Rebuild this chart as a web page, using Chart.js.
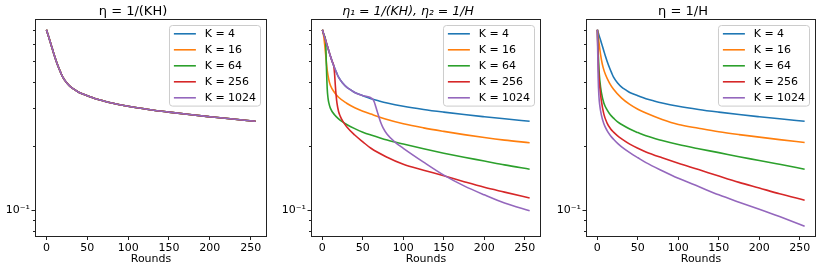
<!DOCTYPE html>
<html>
<head>
<meta charset="utf-8">
<script src="https://cdn.jsdelivr.net/npm/chart.js@4"></script>
<style>
  body { margin: 0; background: #fff; }
  #wrap { position: relative; width: 822px; height: 271px; overflow: hidden; }
  canvas { position: absolute; top: 0; }
</style>
</head>
<body>
<div id="wrap">
  <canvas id="panel-same" width="270" height="271" style="left:0px"></canvas>
  <canvas id="panel-mixed" width="268" height="271" style="left:276px"></canvas>
  <canvas id="panel-large" width="268" height="271" style="left:551px"></canvas>
</div>
<script>
const FONT = "DejaVu Sans";

const K_LABELS = ["K = 4", "K = 16", "K = 64", "K = 256", "K = 1024"];
const COLORS = ["#1f77b4", "#ff7f0e", "#2ca02c", "#d62728", "#9467bd"];
const X_TICKS = [0, 50, 100, 150, 200, 250];
const Y_TICKS = [0.08, 0.09, 0.1, 0.2, 0.3, 0.4, 0.5, 0.6, 0.7];

// eta = 1/(KH): every K gives the same curve (K = 4 looks the same in the other panels)
const baseRounds = [0, 2, 4, 6, 8, 10, 12, 15, 17.5, 20, 25, 30, 35, 40, 50, 60, 70, 80, 100, 125, 150, 175, 200, 225, 256];
const baseLoss = [0.70, 0.661, 0.625, 0.590, 0.557, 0.526, 0.499, 0.465, 0.441, 0.420, 0.394, 0.377, 0.366, 0.356, 0.344, 0.333, 0.325, 0.318, 0.307, 0.2965, 0.288, 0.2805, 0.274, 0.268, 0.261];

// eta1 = 1/(KH), eta2 = 1/H
const mixK16Rounds = [0, 1, 2, 3, 4, 5, 6, 8, 10, 15, 20, 30, 40, 50, 60, 80, 100, 125, 150, 175, 200, 225, 256];
const mixK16Loss = [0.70, 0.675, 0.64, 0.59, 0.54, 0.49, 0.452, 0.408, 0.384, 0.356, 0.338, 0.317, 0.302, 0.291, 0.282, 0.266, 0.254, 0.243, 0.234, 0.226, 0.219, 0.213, 0.207];
const mixK64Rounds = [0, 2, 4, 5, 6, 7, 8, 10, 15, 20, 25, 30, 40, 50, 60, 80, 100, 125, 150, 175, 200, 225, 256];
const mixK64Loss = [0.70, 0.661, 0.625, 0.47, 0.37, 0.335, 0.318, 0.30, 0.28, 0.268, 0.259, 0.252, 0.241, 0.232, 0.225, 0.213, 0.204, 0.194, 0.185, 0.177, 0.170, 0.163, 0.1556];
const mixK256Rounds = [0, 2, 4, 6, 8, 10, 12, 14, 15, 16, 17, 18, 20, 22, 25, 30, 40, 50, 60, 80, 100, 125, 150, 175, 200, 225, 256];
const mixK256Loss = [0.70, 0.661, 0.625, 0.590, 0.557, 0.526, 0.499, 0.476, 0.44, 0.385, 0.345, 0.318, 0.29, 0.276, 0.262, 0.246, 0.225, 0.209, 0.195, 0.177, 0.164, 0.154, 0.145, 0.136, 0.128, 0.1215, 0.114];
const mixK1024Rounds = [0, 2, 4, 6, 8, 10, 12, 15, 17.5, 20, 25, 30, 35, 40, 50, 62, 64, 66, 68, 70, 72, 75, 80, 90, 100, 125, 150, 175, 200, 225, 256];
const mixK1024Loss = [0.70, 0.661, 0.625, 0.590, 0.557, 0.526, 0.499, 0.465, 0.441, 0.420, 0.394, 0.377, 0.366, 0.356, 0.344, 0.332, 0.322, 0.305, 0.288, 0.272, 0.258, 0.243, 0.227, 0.208, 0.195, 0.168, 0.146, 0.130, 0.118, 0.108, 0.0995];

// eta = 1/H
const lrK16Rounds = [0, 1, 2, 3, 5, 7, 10, 15, 20, 30, 40, 50, 60, 80, 100, 125, 150, 175, 200, 225, 256];
const lrK16Loss = [0.70, 0.653, 0.610, 0.569, 0.507, 0.468, 0.432, 0.394, 0.369, 0.335, 0.313, 0.297, 0.285, 0.266, 0.252, 0.242, 0.233, 0.226, 0.220, 0.214, 0.2075];
const lrRounds = [0, 1, 2, 3, 5, 8, 12, 16, 20, 25, 30, 40, 50, 60, 80, 100, 125, 150, 175, 200, 225, 256];
const lrK64Loss = [0.70, 0.55, 0.457, 0.407, 0.355, 0.318, 0.295, 0.280, 0.270, 0.259, 0.252, 0.240, 0.231, 0.223, 0.212, 0.203, 0.194, 0.186, 0.178, 0.171, 0.164, 0.1556];
const lrK256Loss = [0.70, 0.501, 0.417, 0.376, 0.324, 0.282, 0.256, 0.2415, 0.232, 0.223, 0.216, 0.204, 0.195, 0.1875, 0.176, 0.166, 0.155, 0.1445, 0.135, 0.127, 0.1194, 0.1114];
const lrK1024Loss = [0.70, 0.417, 0.339, 0.309, 0.279, 0.254, 0.236, 0.224, 0.215, 0.2056, 0.198, 0.186, 0.176, 0.167, 0.153, 0.141, 0.129, 0.118, 0.109, 0.101, 0.0933, 0.0841];

const Y_MIN = 0.0757, Y_MAX = 0.778;
const X_MIN = -12.8, X_MAX = 268.8;

function points(rounds, loss) {
    return rounds.map((r, i) => ({ x: r, y: loss[i] }));
}

// matplotlib style box around the plot + short minor ticks on the log axis
const framePlugin = {
    id: "frame",
    afterDatasetsDraw(chart) {
        const ctx = chart.ctx;
        const a = chart.chartArea;
        const ys = chart.scales.y;
        ctx.save();
        ctx.strokeStyle = "#222";
        ctx.lineWidth = 1;
        const l = Math.round(a.left) - 0.5, t = Math.round(a.top) - 0.5;
        const r = Math.round(a.right) + 0.5, b = Math.round(a.bottom) + 0.5;
        ctx.strokeRect(l, t, r - l, b - t);
        for (const tick of ys.ticks) {
            const y = Math.round(ys.getPixelForValue(tick.value)) + 0.5;
            const len = tick.value === 0.1 ? 4 : 2.5;
            ctx.beginPath();
            ctx.moveTo(l - len, y);
            ctx.lineTo(l, y);
            ctx.stroke();
        }
        ctx.restore();
    }
};

const legendPlugin = {
    id: "cornerLegend",
    afterDraw(chart) {
        const ctx = chart.ctx;
        const a = chart.chartArea;
        const sets = chart.data.datasets;
        ctx.save();
        ctx.font = "11px " + FONT;
        let textW = 0;
        for (const d of sets) textW = Math.max(textW, ctx.measureText(d.label).width);
        const pad = 4.4, handle = 22, gap = 8.8, rowH = 16, edge = 8.3;
        const w = pad + handle + gap + textW + pad;
        const h = edge * 2 + rowH * (sets.length - 1);
        const x = a.right - 5.5 - w, y = a.top + 5.5, rad = 3;
        ctx.beginPath();
        ctx.moveTo(x + rad, y);
        ctx.arcTo(x + w, y, x + w, y + h, rad);
        ctx.arcTo(x + w, y + h, x, y + h, rad);
        ctx.arcTo(x, y + h, x, y, rad);
        ctx.arcTo(x, y, x + w, y, rad);
        ctx.closePath();
        ctx.fillStyle = "rgba(255,255,255,0.8)";
        ctx.fill();
        ctx.strokeStyle = "#cccccc";
        ctx.lineWidth = 1;
        ctx.stroke();
        ctx.textBaseline = "middle";
        ctx.fillStyle = "#000";
        sets.forEach((d, i) => {
            const cy = y + edge + rowH * i;
            ctx.strokeStyle = d.borderColor;
            ctx.lineWidth = 1.6;
            ctx.beginPath();
            ctx.moveTo(x + pad, cy);
            ctx.lineTo(x + pad + handle, cy);
            ctx.stroke();
            ctx.fillText(d.label, x + pad + handle + gap, cy + 0.5);
        });
        ctx.restore();
    }
};

function makePanel(canvasId, title, titleFont, series) {
    const canvas = document.getElementById(canvasId);
    new Chart(canvas, {
        type: "line",
        data: {
            datasets: series.map((s, i) => ({
                label: K_LABELS[i],
                data: points(s[0], s[1]),
                borderColor: COLORS[i],
                backgroundColor: COLORS[i],
                borderWidth: 1.6,
                pointRadius: 0,
                fill: false,
                cubicInterpolationMode: "monotone",
                order: series.length - i
            }))
        },
        options: {
            responsive: false,
            animation: false,
            devicePixelRatio: 1,
            layout: { padding: { left: 0, right: 4, top: 0, bottom: 0 } },
            plugins: {
                legend: { display: false },
                tooltip: { enabled: false },
                title: {
                    display: true,
                    text: title,
                    color: "#000",
                    font: Object.assign({ family: FONT, weight: "normal", lineHeight: 1.2 }, titleFont),
                    padding: { top: 20 - 1.2 * titleFont.size - 0.4, bottom: 0.4 }
                }
            },
            scales: {
                x: {
                    type: "linear",
                    min: X_MIN,
                    max: X_MAX,
                    afterBuildTicks: scale => { scale.ticks = X_TICKS.map(v => ({ value: v })); },
                    afterFit: scale => { scale.height = 35; },
                    ticks: {
                        autoSkip: false,
                        maxRotation: 0,
                        padding: 2,
                        color: "#000",
                        font: { family: FONT, size: 11 },
                        callback: v => String(v)
                    },
                    grid: { drawOnChartArea: false, tickLength: 4, color: "#222" },
                    border: { display: false },
                    title: {
                        display: true,
                        text: "Rounds",
                        color: "#000",
                        font: { family: FONT, size: 11 },
                        padding: { top: 0, bottom: 5 }
                    }
                },
                y: {
                    type: "logarithmic",
                    min: Y_MIN,
                    max: Y_MAX,
                    afterBuildTicks: scale => { scale.ticks = Y_TICKS.map(v => ({ value: v })); },
                    afterFit: scale => { scale.width = 36; },
                    ticks: {
                        autoSkip: false,
                        padding: 2,
                        color: "#000",
                        font: { family: FONT, size: 11 },
                        callback: v => (v === 0.1 ? "10\u207B\u00B9" : "")
                    },
                    grid: { display: false, tickLength: 4 },
                    border: { display: false }
                }
            }
        },
        plugins: [framePlugin, legendPlugin]
    });
}

makePanel("panel-same", "\u03B7 = 1/(KH)", { size: 13 }, [
    [baseRounds, baseLoss],
    [baseRounds, baseLoss],
    [baseRounds, baseLoss],
    [baseRounds, baseLoss],
    [baseRounds, baseLoss]
]);

makePanel("panel-mixed", "\u03B7\u2081 = 1/(KH), \u03B7\u2082 = 1/H", { size: 12.5, style: "italic" }, [
    [baseRounds, baseLoss],
    [mixK16Rounds, mixK16Loss],
    [mixK64Rounds, mixK64Loss],
    [mixK256Rounds, mixK256Loss],
    [mixK1024Rounds, mixK1024Loss]
]);

makePanel("panel-large", "\u03B7 = 1/H", { size: 13 }, [
    [baseRounds, baseLoss],
    [lrK16Rounds, lrK16Loss],
    [lrRounds, lrK64Loss],
    [lrRounds, lrK256Loss],
    [lrRounds, lrK1024Loss]
]);
</script>
</body>
</html>
